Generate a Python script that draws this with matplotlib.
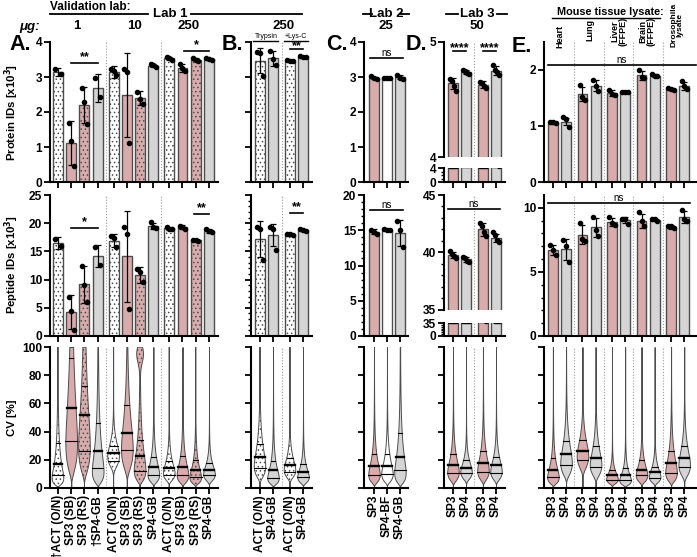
import numpy as np
import matplotlib
matplotlib.use('Agg')
import matplotlib.pyplot as plt
from matplotlib.lines import Line2D

plt.rcParams['font.family'] = ['Liberation Sans', 'DejaVu Sans']
plt.rcParams['font.weight'] = 'bold'
plt.rcParams['hatch.linewidth'] = 0.6

# ---------------- DATA ----------------
# Panel A (Lab 1, 1 / 10 / 250 ug)
A_labels = ["\u2020ACT (O/N)", "SP3 (SB)", "SP3 (RS)", "\u2020SP4-GB",
            "ACT (O/N)", "SP3 (SB)", "SP3 (RS)", "SP4-GB",
            "ACT (O/N)", "SP3 (SB)", "SP3 (RS)", "SP4-GB"]
A_style = ['w', 'p', 'pd', 'g'] * 3
A_prot = [3.14, 1.12, 2.20, 2.69, 3.15, 2.49, 2.39, 3.32, 3.53, 3.25, 3.50, 3.52]
A_prot_sd = [0.12, 0.62, 0.52, 0.40, 0.17, 1.20, 0.20, 0.04, 0.04, 0.12, 0.04, 0.03]
A_prot_pts = [[3.22, 3.08], [1.70, 1.18, 0.47], [2.70, 2.28, 1.65], [2.98, 2.42],
              [3.22, 3.18, 3.05], [3.22, 3.15, 1.12], [2.58, 2.38, 2.24], [3.37, 3.33, 3.30],
              [3.57, 3.55, 3.50], [3.37, 3.25, 3.16], [3.53, 3.50, 3.47], [3.55, 3.52, 3.50]]
A_pep = [16.5, 4.2, 9.2, 14.2, 16.9, 14.1, 10.8, 19.5, 19.1, 19.3, 17.0, 18.6]
A_pep_sd = [1.1, 3.0, 3.3, 2.0, 1.1, 8.1, 1.4, 0.6, 0.3, 0.3, 0.1, 0.3]
A_pep_pts = [[17.2, 15.9], [7.0, 4.5, 1.1], [12.4, 9.1, 6.0], [15.8, 12.6],
             [17.7, 17.3, 15.8], [19.3, 18.0, 4.8], [11.8, 11.4, 9.6], [20.2, 19.3, 19.1],
             [19.3, 19.0, 18.9], [19.5, 19.3, 19.0], [17.05, 17.0, 16.9], [19.0, 18.6, 18.4]]
A_cv_q1 = [9, 33, 26, 14, 19, 27, 12, 9, 9, 9, 7.5, 9]
A_cv_med = [17, 57, 52, 26, 25, 39, 23, 15, 14, 15, 12.5, 13]
A_cv_q3 = [32, 92, 72, 46, 30, 59, 34, 22, 19, 23, 20, 18]
A_cv_top = [0, 0, 0, 0, 0, 0, 0.55, 0, 0, 0, 0, 0]

# Panel B (Lab 1, 250 ug, Trypsin / +Lys-C)
B_labels = ["ACT (O/N)", "SP4-GB", "ACT (O/N)", "SP4-GB"]
B_style = ['w', 'g', 'w', 'g']
B_prot = [3.47, 3.53, 3.47, 3.58]
B_prot_sd = [0.36, 0.22, 0.02, 0.02]
B_prot_pts = [[3.72, 3.68, 3.04], [3.75, 3.52, 3.33], [3.48, 3.47, 3.46], [3.59, 3.58, 3.57]]
B_pep = [17.2, 17.9, 18.0, 18.8]
B_pep_sd = [3.2, 2.0, 0.15, 0.15]
B_pep_pts = [[19.3, 19.0, 13.4], [19.4, 19.0, 15.3], [18.1, 18.0, 17.9], [18.9, 18.8, 18.7]]
B_cv_q1 = [14, 7, 11, 7.5]
B_cv_med = [22, 12.5, 16, 11.5]
B_cv_q3 = [31, 19, 21, 17]

# Panel C (Lab 2, 25 ug)
C_labels = ["SP3", "SP4-BF", "SP4-GB"]
C_style = ['p', 'w0', 'g']
C_prot = [2.98, 2.96, 2.99]
C_prot_sd = [0.03, 0.01, 0.06]
C_prot_pts = [[3.02, 2.97, 2.95], [2.97, 2.96, 2.96], [3.06, 2.98, 2.94]]
C_pep = [14.8, 15.1, 14.6]
C_pep_sd = [0.35, 0.1, 1.8]
C_pep_pts = [[15.1, 14.8, 14.4], [15.2, 15.1, 15.1], [16.3, 15.0, 12.6]]
C_cv_q1 = [9.5, 10, 12.5]
C_cv_med = [15.5, 15.5, 22]
C_cv_q3 = [24, 24, 39]

# Panel D (Lab 3, 50 ug)
D_labels = ["SP3", "SP4", "SP3", "SP4"]
D_style = ['p', 'g', 'p', 'g']
D_prot = [4.64, 4.74, 4.63, 4.75]
D_prot_sd = [0.05, 0.02, 0.03, 0.04]
D_prot_pts = [[4.68, 4.66, 4.62, 4.57], [4.76, 4.75, 4.73, 4.72],
              [4.65, 4.64, 4.62, 4.60], [4.80, 4.76, 4.74, 4.71]]
D_pep = [39.8, 39.4, 42.0, 41.3]
D_pep_sd = [0.25, 0.2, 0.55, 0.35]
D_pep_pts = [[40.1, 39.9, 39.7, 39.5], [39.6, 39.5, 39.3, 39.2],
             [42.6, 42.3, 41.8, 41.4], [41.8, 41.5, 41.1, 40.9]]
D_cv_q1 = [10.5, 10.5, 11.5, 10.5]
D_cv_med = [16.5, 14.5, 18, 16]
D_cv_q3 = [24, 20, 26, 22]

# Panel E (mouse tissues / Drosophila)
E_tissues = ["Heart", "Lung", "Liver\n(FFPE)", "Brain\n(FFPE)", "Drosophila\nlysate"]
E_labels = ["SP3", "SP4"] * 5
E_style = ['p', 'g'] * 5
E_prot = [1.06, 1.08, 1.57, 1.72, 1.59, 1.61, 1.91, 1.90, 1.66, 1.72]
E_prot_sd = [0.02, 0.07, 0.12, 0.10, 0.05, 0.02, 0.08, 0.02, 0.01, 0.07]
E_prot_pts = [[1.08, 1.07, 1.06], [1.16, 1.13, 0.98], [1.74, 1.52, 1.46], [1.83, 1.71, 1.62],
              [1.64, 1.57, 1.55], [1.61, 1.60, 1.60], [2.00, 1.88, 1.86], [1.92, 1.90, 1.89],
              [1.67, 1.66, 1.65], [1.80, 1.72, 1.66]]
E_pep = [6.7, 6.75, 7.9, 8.47, 8.91, 9.05, 9.0, 9.05, 8.53, 9.3]
E_pep_sd = [0.4, 0.85, 0.75, 0.75, 0.3, 0.2, 0.55, 0.1, 0.15, 0.45]
E_pep_pts = [[7.1, 6.7, 6.35], [7.5, 7.0, 5.8], [8.8, 7.6, 7.4], [9.3, 8.3, 7.8],
             [9.3, 8.8, 8.65], [9.15, 9.1, 8.75], [9.7, 8.95, 8.6], [9.1, 9.1, 9.0],
             [8.6, 8.55, 8.4], [9.85, 9.15, 9.0]]
E_cv_q1 = [8, 16, 20, 15, 6, 5.5, 9, 7, 10.5, 15]
E_cv_med = [13, 24, 26.5, 21.5, 9, 9, 13, 11, 17.5, 21.5]
E_cv_q3 = [21, 33, 34, 30, 13, 14, 20, 15, 26, 30]

# ---------------- STYLE / LAYOUT ----------------
W, H = 697, 557
fig = plt.figure(figsize=(W / 100, H / 100), dpi=100)

PINK = '#d9abab'
GRAY = '#d5d5d5'
WHITE = '#ffffff'
EDGE = '#4d4d4d'
HATCH = '....'
STY = {'w': (WHITE, HATCH), 'w0': (WHITE, None), 'p': (PINK, None),
       'pd': (PINK, HATCH), 'g': (GRAY, None)}

R_PROT = (42, 182)
R_PEP = (195, 336)
R_CV = (347, 488)
XFS = 7.0
YFS = 8.6


def ax_px(left, right, top, bottom):
    return fig.add_axes([left / W, 1 - bottom / H, (right - left) / W, (bottom - top) / H])


def fig_text(x, y, s, **kw):
    fig.text(x / W, 1 - y / H, s, **kw)


def fig_line(x0, x1, y0, lw=1.3):
    fig.add_artist(Line2D([x0 / W, x1 / W], [1 - y0 / H, 1 - y0 / H],
                          transform=fig.transFigure, color='k', lw=lw))


def setup(ax, xpos, xlim, ylim, yticks, ylab=True, minor=None, xlabels=None, bottom=True):
    ax.set_xlim(xlim)
    ax.set_ylim(ylim)
    for s in ['top', 'right']:
        ax.spines[s].set_visible(False)
    for s in ['left', 'bottom']:
        ax.spines[s].set_linewidth(1.5)
    if bottom:
        ax.set_xticks(xpos)
        if xlabels is None:
            ax.set_xticklabels([])
        else:
            ax.set_xticklabels(xlabels, rotation=90, fontsize=XFS, fontweight='bold')
    else:
        ax.spines['bottom'].set_visible(False)
        ax.set_xticks([])
    ax.set_yticks(yticks)
    if not ylab:
        ax.set_yticklabels([])
    if minor is not None:
        ax.set_yticks(minor, minor=True)
    ax.tick_params(axis='both', which='major', width=1.3, length=4, labelsize=YFS, pad=1.5)
    ax.tick_params(axis='x', which='major', pad=1.0)
    ax.tick_params(axis='y', which='minor', width=1.0, length=2.5)
    ax.patch.set_alpha(0)


def bars(ax, xpos, means, sds, pts, styles):
    for x, m, s, p, st in zip(xpos, means, sds, pts, styles):
        face, hatch = STY[st]
        ax.bar(x, m, width=0.75, color=face, edgecolor=EDGE, lw=1.0, hatch=hatch, zorder=2)
        ax.errorbar(x, m, yerr=s, fmt='none', ecolor='k', elinewidth=0.9,
                    capsize=2.3, capthick=0.9, zorder=3)
        n = len(p)
        offs = np.linspace(-0.2, 0.2, n) if n > 1 else np.array([0.0])
        ax.plot(x + offs, p, 'o', color='k', ms=3.0, zorder=4)


def violins(ax, xpos, q1s, meds, q3s, styles, tops=None, hw=0.44):
    if tops is None:
        tops = [0] * len(xpos)
    for x, q1, md, q3, st, tp in zip(xpos, q1s, meds, q3s, styles, tops):
        face, hatch = STY[st]
        mu = np.log(md)
        sg = (np.log(q3) - np.log(q1)) / 1.349
        y = np.linspace(0.4, 100, 500)
        d = np.exp(-(np.log(y) - mu) ** 2 / (2 * sg ** 2)) / y
        d = d / d.max()
        if tp:
            d = d + tp * np.exp(-(y - 95) ** 2 / (2 * 6 ** 2))
            d = d / d.max()
        d = d * hw
        ax.fill_betweenx(y, x - d, x + d, facecolor=face, edgecolor=EDGE, lw=0.7,
                         hatch=hatch, zorder=2)
        for q, lw in ((q1, 0.8), (md, 1.7), (q3, 0.8)):
            wq = np.interp(q, y, d)
            ax.plot([x - wq, x + wq], [q, q], color='k', lw=lw, zorder=3)


def seps(ax, xs):
    for s in xs:
        ax.axvline(s, color='#9a9a9a', ls=(0, (1, 1.6)), lw=0.8, zorder=1)


def sig(ax, x0, x1, y, txt, fs=9, dy=0.0, weight='bold'):
    ax.plot([x0, x1], [y, y], color='k', lw=1.2, clip_on=False, zorder=5)
    ax.text((x0 + x1) / 2, y + dy, txt, ha='center', va='bottom', fontsize=fs,
            fontweight=weight, clip_on=False)


# ---------------- PANEL A ----------------
A_pos = [0, 1, 2, 3, 4.2, 5.2, 6.2, 7.2, 8.4, 9.4, 10.4, 11.4]
A_xl = (-0.6, 12.08)
A_sep = [3.6, 7.8]
ax = ax_px(50, 218, *R_PROT)
setup(ax, A_pos, A_xl, (0, 4), [0, 1, 2, 3, 4])
seps(ax, A_sep)
bars(ax, A_pos, A_prot, A_prot_sd, A_prot_pts, A_style)
sig(ax, 1, 3, 3.4, '**')
sig(ax, 9.5, 11.4, 3.74, '*')

ax = ax_px(50, 218, *R_PEP)
setup(ax, A_pos, A_xl, (0, 25), [0, 5, 10, 15, 20, 25])
seps(ax, A_sep)
bars(ax, A_pos, A_pep, A_pep_sd, A_pep_pts, A_style)
sig(ax, 1, 3, 19.1, '*')
sig(ax, 10.3, 11.4, 21.6, '**')

ax = ax_px(50, 218, *R_CV)
setup(ax, A_pos, A_xl, (0, 100), [0, 20, 40, 60, 80, 100], xlabels=A_labels)
seps(ax, A_sep)
violins(ax, A_pos, A_cv_q1, A_cv_med, A_cv_q3, A_style, A_cv_top)

# ---------------- PANEL B ----------------
B_pos = [0, 1, 2.3, 3.3]
B_xl = (-0.69, 3.99)
ax = ax_px(251, 312, *R_PROT)
setup(ax, B_pos, B_xl, (0, 4), [0, 1, 2, 3, 4], ylab=False)
seps(ax, [1.65])
bars(ax, B_pos, B_prot, B_prot_sd, B_prot_pts, B_style)
sig(ax, 2.3, 3.3, 3.8, '**', dy=-0.08)

ax = ax_px(251, 312, *R_PEP)
setup(ax, B_pos, B_xl, (0, 25), [0, 5, 10, 15, 20, 25], ylab=False,
      minor=[v for v in range(26) if v % 5])
seps(ax, [1.65])
bars(ax, B_pos, B_pep, B_pep_sd, B_pep_pts, B_style)
sig(ax, 2.3, 3.3, 21.8, '**')

ax = ax_px(251, 312, *R_CV)
setup(ax, B_pos, B_xl, (0, 100), [0, 20, 40, 60, 80, 100], ylab=False, xlabels=B_labels)
seps(ax, [1.65])
violins(ax, B_pos, B_cv_q1, B_cv_med, B_cv_q3, B_style)

# ---------------- PANEL C ----------------
C_pos = [0, 1, 2]
C_xl = (-0.77, 2.62)
ax = ax_px(364, 408, *R_PROT)
setup(ax, C_pos, C_xl, (0, 4), [0, 1, 2, 3, 4])
bars(ax, C_pos, C_prot, C_prot_sd, C_prot_pts, C_style)
sig(ax, -0.3, 2.25, 3.55, 'ns', fs=7, weight='normal')

ax = ax_px(364, 408, *R_PEP)
setup(ax, C_pos, C_xl, (0, 20), [0, 5, 10, 15, 20],
      minor=[v for v in range(21) if v % 5])
bars(ax, C_pos, C_pep, C_pep_sd, C_pep_pts, C_style)
sig(ax, -0.3, 2.25, 17.9, 'ns', fs=7, weight='normal')

ax = ax_px(364, 408, *R_CV)
setup(ax, C_pos, C_xl, (0, 100), [0, 20, 40, 60, 80, 100], ylab=False, xlabels=C_labels)
violins(ax, C_pos, C_cv_q1, C_cv_med, C_cv_q3, C_style)

# ---------------- PANEL D (broken axes) ----------------
D_pos = [0, 1, 2.3, 3.3]
D_xl = (-0.69, 3.99)
ax = ax_px(444, 505, 42, 157)
setup(ax, D_pos, D_xl, (4, 5), [4, 5], bottom=False)
seps(ax, [1.65])
bars(ax, D_pos, D_prot, D_prot_sd, D_prot_pts, D_style)
sig(ax, 0.0, 1.0, 4.92, '****', dy=-0.025)
sig(ax, 2.3, 3.3, 4.92, '****', dy=-0.025)
ax = ax_px(444, 505, 168, 182)
setup(ax, D_pos, D_xl, (0, 4), [0, 4], minor=[1, 2, 3])
seps(ax, [1.65])
bars(ax, D_pos, D_prot, D_prot_sd, D_prot_pts, D_style)

ax = ax_px(444, 505, 195, 310)
setup(ax, D_pos, D_xl, (35, 45), [35, 40, 45], bottom=False,
      minor=[v for v in range(35, 46) if v % 5])
seps(ax, [1.65])
bars(ax, D_pos, D_pep, D_pep_sd, D_pep_pts, D_style)
sig(ax, -0.4, 3.6, 43.8, 'ns', fs=7, weight='normal')
ax = ax_px(444, 505, 323, 336)
setup(ax, D_pos, D_xl, (0, 35), [0, 35], minor=[5, 10, 15, 20, 25, 30])
seps(ax, [1.65])
bars(ax, D_pos, D_pep, D_pep_sd, D_pep_pts, D_style)

ax = ax_px(444, 505, *R_CV)
setup(ax, D_pos, D_xl, (0, 100), [0, 20, 40, 60, 80, 100], ylab=False, xlabels=D_labels)
seps(ax, [1.65])
violins(ax, D_pos, D_cv_q1, D_cv_med, D_cv_q3, D_style)

# ---------------- PANEL E ----------------
E_pos = [0, 1, 2.25, 3.25, 4.5, 5.5, 6.75, 7.75, 9, 10]
E_xl = (-0.68, 10.9)
E_sep = [1.625, 3.875, 6.125, 8.375]
ax = ax_px(544, 696, *R_PROT)
setup(ax, E_pos, E_xl, (0, 2.5), [0, 1, 2])
seps(ax, E_sep)
bars(ax, E_pos, E_prot, E_prot_sd, E_prot_pts, E_style)
sig(ax, -0.38, 10.9, 2.09, 'ns', fs=7, weight='normal')

ax = ax_px(544, 696, *R_PEP)
setup(ax, E_pos, E_xl, (0, 11), [0, 5, 10], minor=[v for v in range(11) if v % 5])
seps(ax, E_sep)
bars(ax, E_pos, E_pep, E_pep_sd, E_pep_pts, E_style)
sig(ax, -0.38, 10.45, 10.35, 'ns', fs=7, weight='normal')

ax = ax_px(544, 696, *R_CV)
setup(ax, E_pos, E_xl, (0, 100), [0, 20, 40, 60, 80, 100], ylab=False, xlabels=E_labels)
seps(ax, E_sep)
violins(ax, E_pos, E_cv_q1, E_cv_med, E_cv_q3, E_style)

# ---------------- HEADERS & LABELS ----------------
fig_text(12, 112, "Protein IDs [x10$^{3}$]", rotation=90, ha='center', va='center', fontsize=8.2)
fig_text(12, 265, "Peptide IDs [x10$^{3}$]", rotation=90, ha='center', va='center', fontsize=8.2)
fig_text(12, 418, "CV [%]", rotation=90, ha='center', va='center', fontsize=8.2)

fig_text(50, 7, "Validation lab:", ha='left', va='center', fontsize=8.5)
fig_line(50, 148, 14)
fig_text(170, 14, "Lab 1", ha='center', va='center', fontsize=9.5)
fig_line(191, 302, 14)
fig_text(40, 27, "\u03bcg:", ha='right', va='center', fontsize=9.5, style='italic')
for xx, s in ((77, "1"), (134, "10"), (189, "250"), (284, "250"), (386, "25"), (477, "50")):
    fig_text(xx, 26, s, ha='center', va='center', fontsize=9.5)
fig_line(363, 372, 14)
fig_text(386, 14, "Lab 2", ha='center', va='center', fontsize=9.5)
fig_line(400, 409, 14)
fig_line(446, 458, 14)
fig_text(477, 14, "Lab 3", ha='center', va='center', fontsize=9.5)
fig_line(497, 507, 14)

fig_text(266, 36, "Trypsin", ha='center', va='center', fontsize=5, fontweight='normal')
fig_line(253, 278, 41, lw=1.0)
fig_text(296, 36, "+Lys-C", ha='center', va='center', fontsize=5, fontweight='normal')
fig_line(284, 308, 41, lw=1.0)

fig_text(610, 12, "Mouse tissue lysate:", ha='center', va='center', fontsize=7.8)
fig_line(552, 660, 18, lw=1.0)
for xx, yb, fs, s in zip((560, 590, 619, 647, 677), (48, 41, 46, 46, 47),
                         (6.5, 6.5, 6.5, 6.5, 6.0), E_tissues):
    fig_text(xx, yb, s, rotation=90, ha='center', va='bottom', fontsize=fs,
             linespacing=0.95)

for xx, yy, s in ((20, 45, "A."), (232, 45, "B."), (337, 45, "C."), (416, 45, "D."), (522, 47, "E.")):
    fig_text(xx, yy, s, ha='center', va='center', fontsize=15.5)

fig.savefig('out.png', dpi=100)
